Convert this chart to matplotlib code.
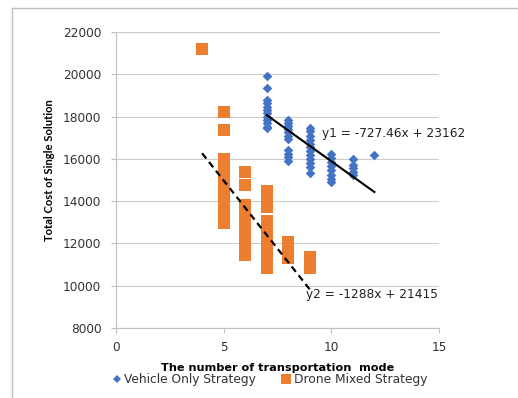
import matplotlib.pyplot as plt
import numpy as np
from matplotlib.lines import Line2D

# Vehicle only strategy (blue diamonds)
veh_x = [7] * 12 + [8] * 11 + [9] * 12 + [10] * 8 + [11] * 5 + [12]
veh_y = [19930, 19370, 18790, 18630, 18470, 18320, 18160, 18000, 17850, 17690, 17530, 17450,
         17820, 17680, 17550, 17400, 17250, 17100, 16950, 16400, 16250, 16100, 15900,
         17450, 17300, 17100, 16900, 16700, 16550, 16350, 16200, 16000, 15800, 15600, 15350,
         16230, 16050, 15850, 15650, 15450, 15250, 15050, 14900,
         16000, 15700, 15550, 15400, 15250,
         16200]

# Drone mixed strategy (orange squares)
drone_x = [4] + [5] * 13 + [6] * 11 + [7] * 13 + [8] * 4 + [9] * 3
drone_y = [21200,
           18200, 17350, 16000, 15700, 15400, 15100, 14800, 14500, 14200, 13930, 13500, 13250, 12970,
           15400, 14750, 13830, 13500, 13200, 12900, 12600, 12300, 12000, 11700, 11440,
           14480, 14200, 13950, 13700, 13050, 12750, 12450, 12150, 11850, 11550, 11250, 10950, 10850,
           12050, 11800, 11550, 11300,
           11370, 11100, 10820]

# linear trendlines (slope, intercept, x range)
fit1 = (-727.46, 23162, [7, 12])
fit2 = (-1288, 21415, [4, 9])

x_ticks = [0, 5, 10, 15]
y_ticks = list(range(8000, 22001, 2000))

blue = '#4472C4'
orange = '#ED7D31'

plt.rcParams['font.family'] = 'DejaVu Sans'
fig = plt.figure(figsize=(5.18, 3.98), dpi=100)
ax = fig.add_axes([116 / 518, 1 - 328 / 398, (439 - 116) / 518, (328 - 32) / 398])

ax.scatter(veh_x, veh_y, marker='D', s=24, color=blue, linewidths=0, zorder=3)
ax.scatter(drone_x, drone_y, marker='s', s=64, color=orange, linewidths=0, zorder=3)

m, b, xr = fit1
xs = np.array(xr)
ax.plot(xs, m * xs + b, color='black', lw=1.5, zorder=4)
m, b, xr = fit2
xs = np.array(xr)
ax.plot(xs, m * xs + b, color='black', lw=1.6, linestyle=(0, (3, 2)), zorder=4)

ax.text(9.55, 17200, 'y1 = -727.46x + 23162', fontsize=8.7, va='center', ha='left', color='#222222')
ax.text(8.82, 9600, 'y2 = -1288x + 21415', fontsize=8.7, va='center', ha='left', color='#222222')

ax.set_xlim(0, 15)
ax.set_ylim(8000, 22000)
ax.set_xticks(x_ticks)
ax.set_yticks(y_ticks)
ax.grid(axis='y', color='#cccccc', lw=0.8)
ax.set_axisbelow(True)
ax.spines['right'].set_visible(False)
ax.spines['top'].set_color('#cccccc')
ax.spines['left'].set_color('#bfbfbf')
ax.spines['bottom'].set_color('#bfbfbf')
ax.tick_params(axis='both', colors='#bfbfbf', labelcolor='#333333', labelsize=8.7, length=3.5)
ax.tick_params(axis='y', pad=7)
ax.tick_params(axis='x', pad=6)

ax.set_xlabel('The number of transportation  mode', fontsize=8.1, fontweight='bold', labelpad=6)
fig.text(50 / 518, 1 - 170 / 398, 'Total Cost of Single Solution', rotation=90,
         fontsize=8.1, fontweight='bold', family='Lato', ha='center', va='center')

handles = [Line2D([], [], marker='D', color=blue, ls='none', ms=4, mew=0),
           Line2D([], [], marker='s', color=orange, ls='none', ms=7.5, mew=0)]
fig.legend(handles, ['Vehicle Only Strategy', 'Drone Mixed Strategy'], loc='center',
           bbox_to_anchor=(270 / 518, 1 - 380 / 398), ncol=2, frameon=False, fontsize=8.8,
           handlelength=0.6, handletextpad=0.3, columnspacing=2.2, borderpad=0, labelcolor='#333333')

# outer frame (left and top edges)
fig.add_artist(Line2D([12 / 518, 12 / 518], [0, 1 - 8 / 398], transform=fig.transFigure,
                      color='#bfbfbf', lw=1))
fig.add_artist(Line2D([12 / 518, 1], [1 - 8 / 398, 1 - 8 / 398], transform=fig.transFigure,
                      color='#bfbfbf', lw=1))

fig.savefig('out.png', dpi=100)
